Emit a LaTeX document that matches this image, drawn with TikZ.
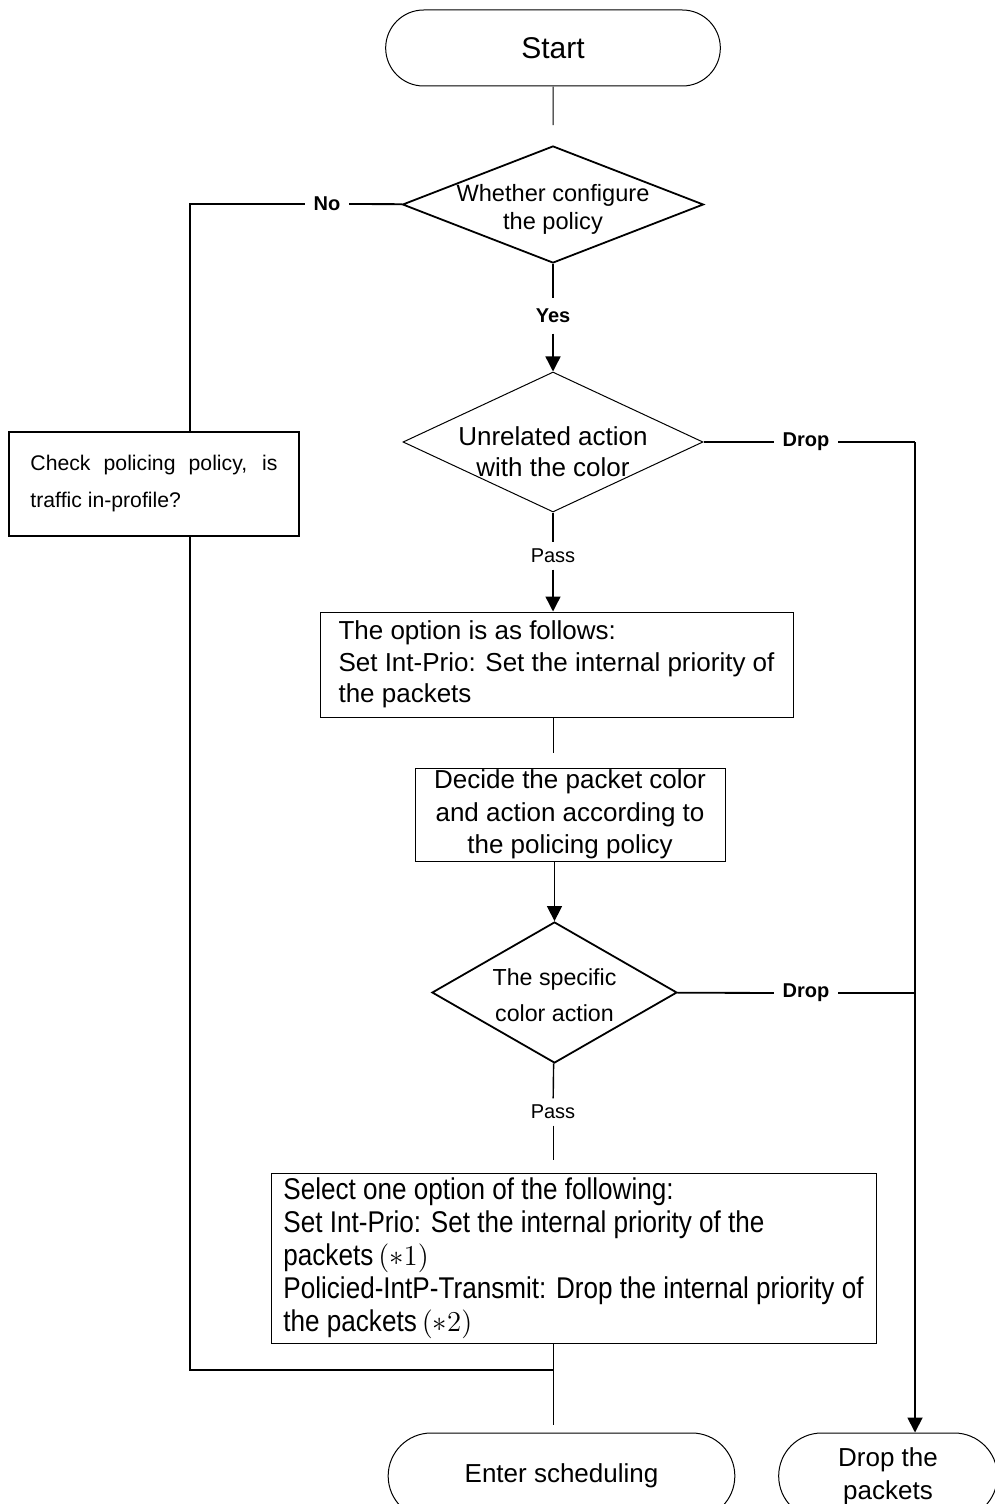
\documentclass[tikz,border=0pt]{standalone}
\usepackage{fontspec}
\setmainfont{Liberation Sans}
\newfontfamily\narrowsans[FakeStretch=0.87]{Liberation Sans}
\usetikzlibrary{
    positioning,     % relative placement
    arrows.meta,     % Triangle tips
    shapes.geometric,% diamond
    shapes.misc,     % rounded rectangle
    calc
}
\tikzset{
    block/.style={
        rectangle, draw, line width=0.5pt, inner sep=0pt,
        font=\fontsize{13}{15.8}\selectfont
    },
    decision/.style={
        diamond, draw, line width=0.9pt, inner sep=0pt
    },
    dtext/.style={
        align=center, inner sep=0pt
    },
    terminal/.style={
        rounded rectangle, draw, line width=0.5pt, align=center,
        font=\fontsize{13}{16.5}\selectfont
    },
    arrow/.style={
        -{Triangle[length=7.5pt,width=7.5pt]}
    },
    tag/.style={
        font=\fontsize{10}{12}\selectfont, inner xsep=4pt, inner ysep=3pt
    },
    boldtag/.style={
        tag, font=\fontsize{10}{12}\selectfont\bfseries
    }
}

\begin{document}
\begin{tikzpicture}[x=0.5pt, y=-0.5pt, line width=0.7pt]
    \clip (0,0) rectangle (995,1504);

    % main column
    \node[terminal, minimum width=174pt, minimum height=38pt,
          font=\fontsize{15}{18}\selectfont] (start) at (553,48) {Start};
    \node[decision, minimum width=150.5pt, minimum height=58.5pt,
          label={[dtext, yshift=-2.5pt, font=\fontsize{11.8}{14}\selectfont]center:Whether configure\\the policy}]
          (policy) at (553,204.5) {};
    \node[boldtag, inner ysep=5pt] (yes) at (553,316) {Yes};
    \node[decision, line width=0.5pt, minimum width=150pt, minimum height=70pt,
          label={[dtext, yshift=-5pt, font=\fontsize{13}{15.5}\selectfont]center:Unrelated action\\with the color}]
          (unrel) at (553,442) {};
    \node[tag] (pass1) at (553,556) {Pass};
    \node[block, minimum width=236.5pt, minimum height=52.5pt, align=left]
          (option) at (556.5,664.5) {The option is as follows:\\Set Int-Prio: Set the internal priority of\\the packets};
    \node[block, minimum width=155pt, minimum height=46.5pt, align=center,
          font=\fontsize{13}{16.25}\selectfont]
          (decide) at (570,814.5) {Decide the packet color\\and action according to\\the policing policy};
    \node[decision, minimum width=122.5pt, minimum height=70.5pt,
          label={[dtext, yshift=-1.5pt, font=\fontsize{11.6}{18}\selectfont]center:The specific\\color action}]
          (specific) at (554.5,992.5) {};
    \node[tag] (pass2) at (553,1112) {Pass};
    \node[block, minimum width=302.5pt, minimum height=85pt, align=left,
          font=\narrowsans\fontsize{15}{16.5}\selectfont]
          (select) at (573.5,1258) {Select one option of the following:\\Set Int-Prio: Set the internal priority of the\\packets\,$(\ast1)$\\Policied-IntP-Transmit: Drop the internal priority of\\the packets\,$(\ast2)$};
    \node[terminal, minimum width=180pt, minimum height=43pt] (enter) at (561.5,1476) {Enter scheduling};

    % left branch
    \node[boldtag] (no) at (327,204) {No};
    \coordinate (leftrail) at (190,204);
    \node[block, line width=1.1pt, minimum width=145pt, minimum height=52pt,
          text width=123.5pt, align=justify, font=\fontsize{10.6}{18.5}\selectfont]
          (check) at (154,484) {Check policing policy, is traffic in-profile?};
    \coordinate (merge) at (553,1370);

    % right branch
    \node[boldtag] (drop1) at (806,442) {Drop};
    \node[boldtag] (drop2) at (806,993) {Drop};
    \coordinate (dropbus) at (915,442);
    \node[terminal, minimum width=116pt, minimum height=43pt] (droppkt) at (888,1476) {Drop the\\packets};

    % connectors
    \draw[line width=0.5pt, shorten >=10pt] (start) -- (policy);
    \draw (policy) -- (yes);
    \draw[arrow] (yes) -- (unrel);
    \draw (unrel) -- (pass1);
    \draw[arrow] (pass1) -- (pass1 |- option.north);
    \draw[line width=0.5pt, shorten >=7.5pt] (option.south -| pass1) -- (decide.north -| pass1);
    \draw[arrow] (decide.south -| specific.north) -- (specific.north);
    \draw (specific) -- (pass2);
    \draw[line width=0.5pt, shorten >=6.5pt] (pass2) -- (pass2 |- select.north);
    \draw[line width=0.5pt, shorten >=4pt] (select.south -| merge) -- (enter.north -| merge);

    \draw[line width=0.9pt] (policy) -- (no);
    \draw[line width=1.1pt] (no) -- (leftrail) -- (leftrail |- check.north);
    \draw[line width=1.1pt] (check.south -| leftrail) |- (merge);

    \draw (unrel) -- (drop1);
    \draw[line width=0.9pt] (drop1) -- (dropbus);
    \draw[line width=0.9pt] (specific) -- (drop2);
    \draw[line width=0.9pt] (drop2) -- (drop2 -| dropbus);
    \draw[arrow, line width=0.9pt] (dropbus) -- (dropbus |- droppkt.north);
\end{tikzpicture}
\end{document}
